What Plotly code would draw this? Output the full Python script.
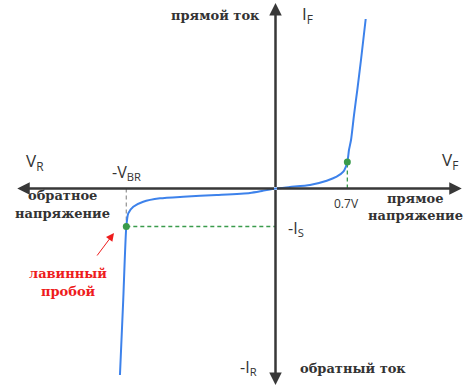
import plotly.graph_objects as go

# ---- data (arbitrary units: x in volts, y in relative current) ----
curve_v = [-1.516, -1.484, -1.454, -1.435, -1.386, -1.289, -1.126, -0.899, -0.573, -0.249, -0.132, 0.0,
           0.141, 0.336, 0.499, 0.596, 0.661, 0.700, 0.716, 0.736, 0.765, 0.797, 0.833, 0.879]
curve_i = [-4.908, -2.934, -1.000, -0.653, -0.479, -0.347, -0.258, -0.216, -0.171, -0.118, -0.066, 0.0,
           0.039, 0.092, 0.205, 0.311, 0.442, 0.697, 1.013, 1.276, 1.934, 2.592, 3.382, 4.461]
knee_v = [-1.454, 0.700]
knee_i = [-1.000, 0.697]
v_br = -1.454
i_s = -1.0
v_f = 0.7

X_RANGE = [-2.685, 1.954]
Y_RANGE = [-5.25, 4.961]
AX_X = [-2.517, 1.815]
AX_Y = [-5.17, 4.88]

W, H = 476, 388
AXIS_COL = "#383838"
BLUE = "#3d82eb"
GREEN = "#3a9b4c"
RED = "#ee1c1c"
SANS = "Open Sans, sans-serif"
SERIF = "DejaVu Serif, serif"

fig = go.Figure()

# dashed guides
fig.add_trace(go.Scatter(x=[v_br, v_br], y=[0, i_s], mode="lines",
                         line=dict(color="#9a9a9a", width=1.3, dash="4px,3px"), hoverinfo="skip"))
fig.add_trace(go.Scatter(x=[v_br, 0], y=[i_s, i_s], mode="lines",
                         line=dict(color=GREEN, width=1.3, dash="4px,3px"), hoverinfo="skip"))
fig.add_trace(go.Scatter(x=[v_f, v_f], y=[0, knee_i[1]], mode="lines",
                         line=dict(color=GREEN, width=1.3, dash="4px,3px"), hoverinfo="skip"))

# curve
fig.add_trace(go.Scatter(x=curve_v, y=curve_i, mode="lines",
                         line=dict(color=BLUE, width=2, shape="spline", smoothing=0.6), hoverinfo="skip"))
fig.add_trace(go.Scatter(x=knee_v, y=knee_i, mode="markers",
                         marker=dict(color=GREEN, size=7), hoverinfo="skip"))

# axes arrows
def arrow(x, y, ax, ay, color=AXIS_COL, width=2.5, size=1.0, head=2):
    fig.add_annotation(x=x, y=y, ax=ax, ay=ay, xref="x", yref="y", axref="x", ayref="y",
                       text="", showarrow=True, arrowhead=head, arrowsize=size,
                       arrowwidth=width, arrowcolor=color)

arrow(AX_X[1], 0, 0, 0)
arrow(AX_X[0], 0, 0, 0)
arrow(0, AX_Y[1], 0, 0)
arrow(0, AX_Y[0], 0, 0)

def label(px, py, text, size, color="#333333", family=SANS, xanchor="center", bold=False):
    fig.add_annotation(x=px / W, y=1 - py / H, xref="paper", yref="paper", text=text,
                       showarrow=False, xanchor=xanchor, yanchor="middle",
                       font=dict(size=size, color=color, family=family,
                                 weight="bold" if bold else "normal"))

label(35, 161, "V<sub>R</sub>", 17)
label(126, 172, "-V<sub>BR</sub>", 16)
label(62, 195, "обратное", 13, family=SERIF, bold=True)
label(62, 213, "напряжение", 13, family=SERIF, bold=True)
label(300, 15, "I<sub>F</sub>", 17, xanchor="left")
label(262, 16, "прямой ток", 13, family=SERIF, bold=True, xanchor="right")
label(450, 160, "V<sub>F</sub>", 17)
label(346, 203, "0.7V", 12)
label(415, 199, "прямое", 13, family=SERIF, bold=True)
label(415, 215, "напряжение", 13, family=SERIF, bold=True)
label(286, 228, "-I<sub>S</sub>", 16, xanchor="left")
label(68, 273, "лавинный", 13, color=RED, family=SERIF, bold=True)
label(68, 291, "пробой", 13, color=RED, family=SERIF, bold=True)
label(248, 367, "-I<sub>R</sub>", 16)
label(298, 368, "обратный ток", 13, family=SERIF, bold=True, xanchor="left")

# red arrow to breakdown knee
fig.add_annotation(x=(114 - 275.5) / 102.6, y=(188.5 - 233) / 38,
                   ax=(96 - 275.5) / 102.6, ay=(188.5 - 257) / 38,
                   xref="x", yref="y", axref="x", ayref="y", text="", showarrow=True,
                   arrowhead=2, arrowsize=1.6, arrowwidth=1, arrowcolor=RED)

fig.update_xaxes(range=X_RANGE, visible=False, fixedrange=True)
fig.update_yaxes(range=Y_RANGE, visible=False, fixedrange=True)
fig.update_layout(width=W, height=H, margin=dict(l=0, r=0, t=0, b=0),
                  showlegend=False, plot_bgcolor="white", paper_bgcolor="white")

fig.write_html("out.html", config={"displayModeBar": False},
               post_script="document.body.style.margin='0';document.body.style.overflow='hidden';")
